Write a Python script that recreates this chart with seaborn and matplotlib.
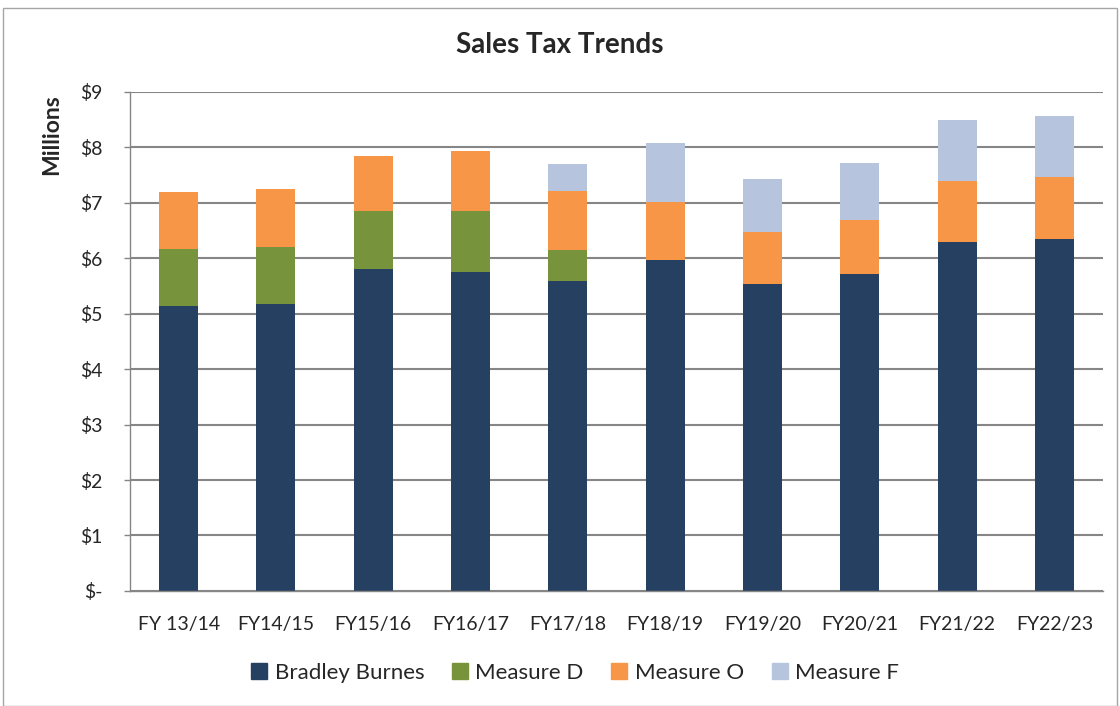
import numpy as np
import pandas as pd
import seaborn as sns
import matplotlib.pyplot as plt
from matplotlib.patches import Rectangle
from matplotlib.lines import Line2D

years = ["FY 13/14", "FY14/15", "FY15/16", "FY16/17", "FY17/18",
         "FY18/19", "FY19/20", "FY20/21", "FY21/22", "FY22/23"]
bradley_burnes = [5.14, 5.17, 5.81, 5.75, 5.58, 5.96, 5.53, 5.71, 6.29, 6.35]
measure_d = [1.03, 1.03, 1.04, 1.10, 0.56, 0, 0, 0, 0, 0]
measure_o = [1.02, 1.04, 1.00, 1.09, 1.07, 1.06, 0.95, 0.98, 1.10, 1.11]
measure_f = [0, 0, 0, 0, 0.49, 1.05, 0.95, 1.02, 1.11, 1.10]

series = ["Bradley Burnes", "Measure D", "Measure O", "Measure F"]
colors = ["#264061", "#77933C", "#F79646", "#B7C4DE"]

sns.set_theme(style="white")
plt.rcParams["font.family"] = ["Lato", "DejaVu Sans"]

df = pd.DataFrame({"year": years, "Bradley Burnes": bradley_burnes,
                   "Measure D": measure_d, "Measure O": measure_o,
                   "Measure F": measure_f})
cum = df[series].cumsum(axis=1)

fig = plt.figure(figsize=(11.2, 7.06), dpi=100)
ax = fig.add_axes([0.116, 0.163, 0.869, 0.707])

# draw cumulative heights from the tallest down so they look stacked
for name, c in reversed(list(zip(series, colors))):
    sns.barplot(x=df["year"], y=cum[name], color=c, width=0.4,
                saturation=1, ax=ax, linewidth=0, zorder=2)

ax.set_ylim(0, 9)
ax.set_yticks(range(0, 10))
ax.set_yticklabels(["$-"] + [f"${i}" for i in range(1, 10)], fontsize=14)
ax.set_xlim(-0.5, 9.5)
ax.tick_params(axis="x", which="major", length=0, pad=18, labelsize=14)
ax.set_xticks(np.arange(-0.5, 10, 1), minor=True)
ax.tick_params(axis="x", which="minor", length=6, color="#868686", width=1)
ax.tick_params(axis="y", length=4.5, color="#868686", width=1, left=True,
               pad=15)
ax.grid(axis="y", color="#868686", linewidth=1.5, zorder=0)
ax.set_axisbelow(True)
for s in ["top", "right"]:
    ax.spines[s].set_visible(False)
for s in ["left", "bottom"]:
    ax.spines[s].set_color("#868686")
    ax.spines[s].set_linewidth(1)
ax.set_xlabel("")
ax.set_ylabel("")

fig.text(0.5, 0.936, "Sales Tax Trends", ha="center", va="center",
         fontsize=20, fontweight="bold")
fig.text(0.046, 0.866, "Millions", rotation=90, ha="center", va="top",
         fontsize=16.5, fontweight="bold")

handles = [Line2D([0], [0], marker="s", linestyle="", markersize=11,
                  markerfacecolor=c, markeredgecolor=c) for c in colors]
fig.legend(handles, series, loc="center", bbox_to_anchor=(0.512, 0.047),
           ncol=4, frameon=False, fontsize=16, handletextpad=0.2,
           columnspacing=1.1, handlelength=1)

fig.patches.append(Rectangle((0.003, 0.0), 0.994, 0.988,
                             transform=fig.transFigure, fill=False,
                             edgecolor="#A6A6A6", linewidth=1))

fig.savefig("out.png", dpi=100)
